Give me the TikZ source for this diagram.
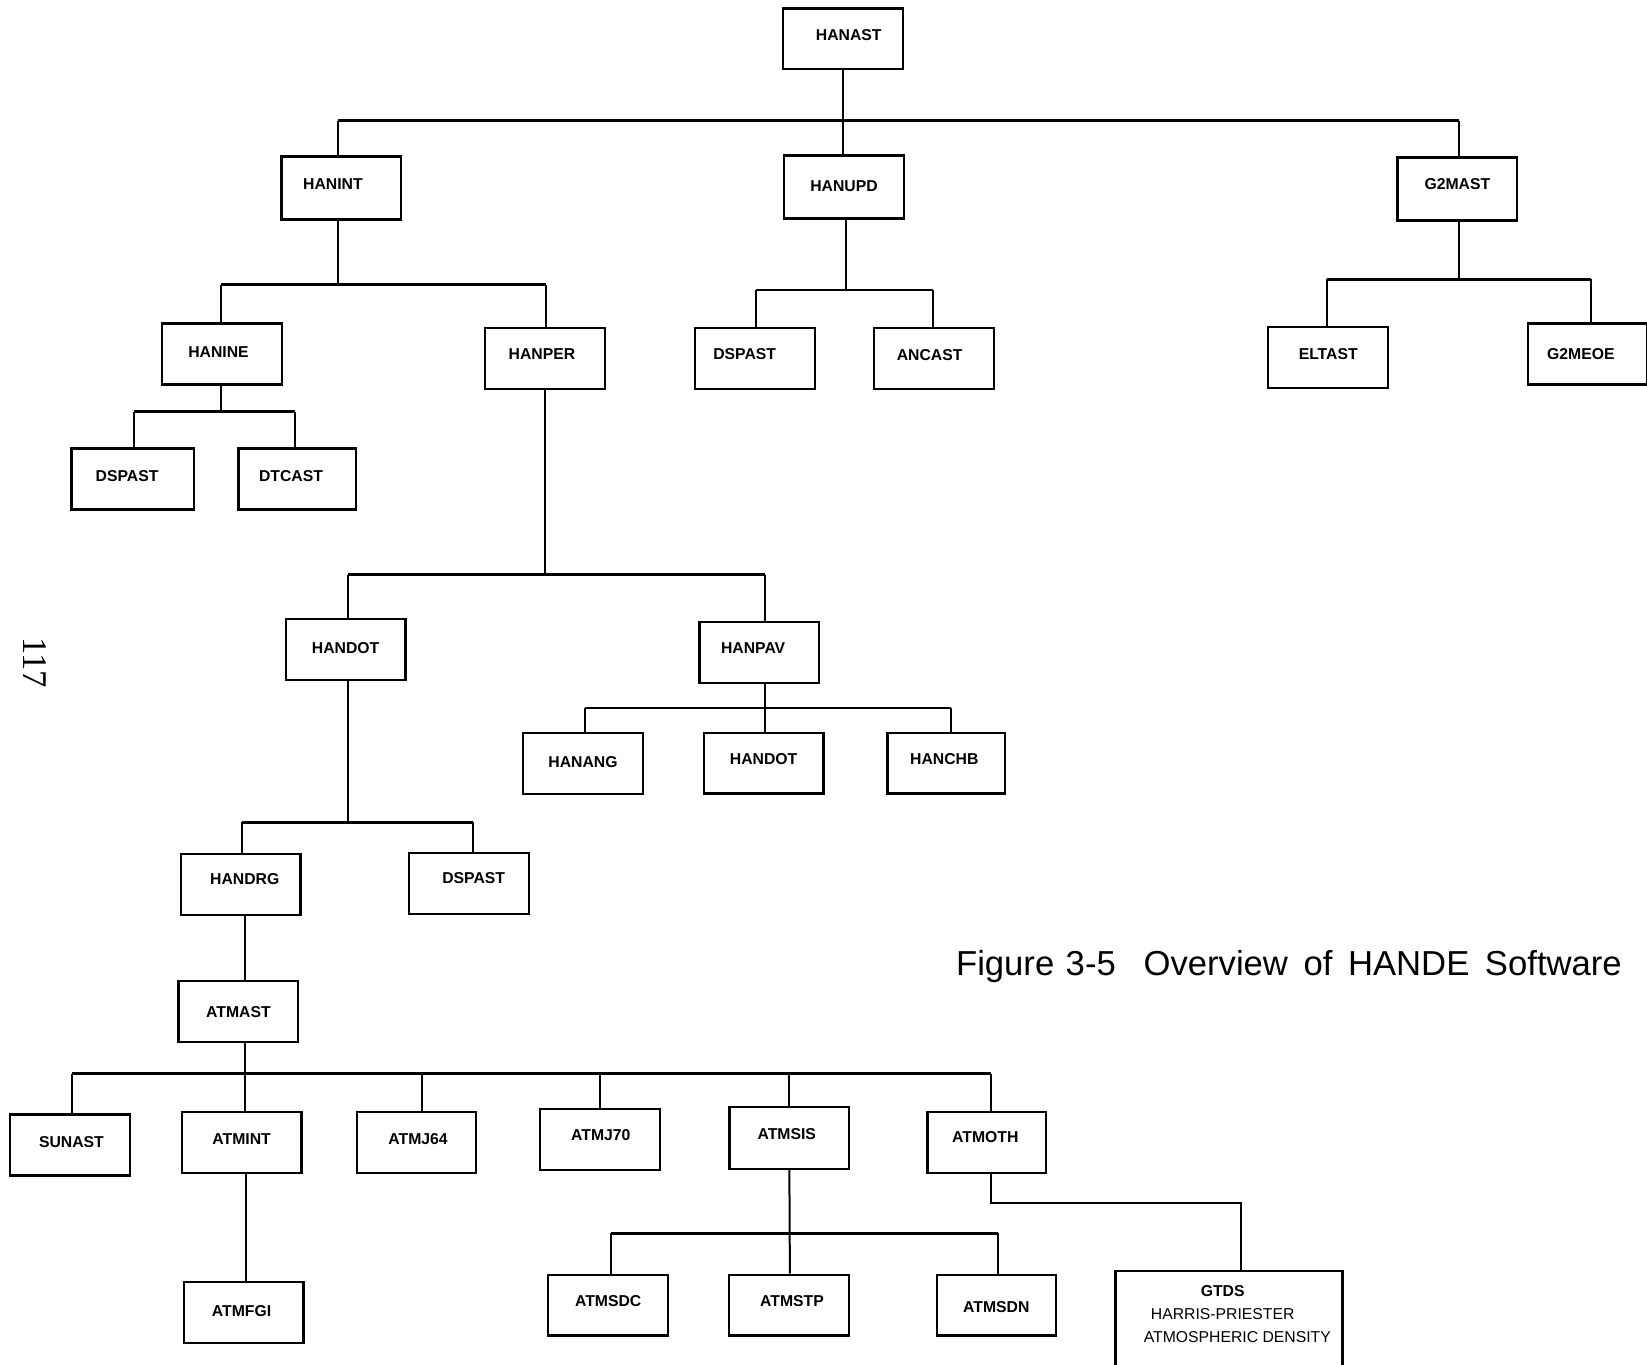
\documentclass[tikz,border=0pt]{standalone}
\usepackage{fontspec}
\setmainfont{Liberation Sans}
\newfontfamily\numfont{Liberation Serif}
\begin{document}
\begin{tikzpicture}[x=1pt,y=-1pt,
  box/.style={draw, line width=2.1pt, minimum width=114pt, minimum height=58pt,
    inner sep=0pt, text depth=7pt, font=\fontsize{15}{18}\selectfont\bfseries},
  conn/.style={line width=1.9pt},
  bus/.style={line width=2.6pt}]
\useasboundingbox (0,0) rectangle (1568,1299);

% ---- level 0 / 1
\node[box, text depth=8pt] (hanast) at (802.5,37) {\hspace*{11pt}HANAST};
\node[box, minimum height=60pt, text depth=8pt] (hanint) at (325,179) {\hspace*{-16pt}HANINT};
\node[box, minimum height=60pt, text depth=2pt] (hanupd) at (803.5,178) {HANUPD};
\node[box, minimum height=60pt, text depth=10pt] (g2mast) at (1387.5,180) {G2MAST};

% ---- level 2
\node[box, text depth=4pt] (hanine) at (211.5,337) {\hspace*{-7pt}HANINE};
\node[box, text depth=8pt] (hanper) at (519,341) {\hspace*{-6pt}HANPER};
\node[box, text depth=8pt] (dspasta) at (719,341) {\hspace*{-20pt}DSPAST};
\node[box, text depth=6pt] (ancast) at (889,341) {\hspace*{-8pt}ANCAST};
\node[box, text depth=7pt] (eltast) at (1264.5,340.5) {ELTAST};
\node[box, text depth=0pt] (g2meoe) at (1511.5,337) {\hspace*{-13pt}G2MEOE};

% ---- level 3
\node[box, minimum width=117pt, text depth=6pt] (dspastb) at (126.5,456) {\hspace*{-11pt}DSPAST};
\node[box, minimum width=112pt, text depth=6pt] (dtcast) at (283,456) {\hspace*{-12pt}DTCAST};

\node[box, text depth=3pt] (handota) at (329,618.5) {HANDOT};
\node[box, text depth=8pt] (hanpav) at (723,621) {\hspace*{-12pt}HANPAV};

\node[box, text depth=4pt] (hanang) at (555,727) {HANANG};
\node[box, text depth=7pt] (handotb) at (727,726.5) {HANDOT};
\node[box, minimum width=112pt, text depth=7pt] (hanchb) at (901,726.5) {\hspace*{-4pt}HANCHB};

\node[box, text depth=10pt] (handrg) at (229,842) {\hspace*{8pt}HANDRG};
\node[box, text depth=10pt] (dspastc) at (446.5,841) {\hspace*{9pt}DSPAST};

\node[box, text depth=0pt] (atmast) at (227,963) {ATMAST};

% ---- atmosphere models
\node[box, text depth=6pt] (sunast) at (66.5,1090) {\hspace*{3pt}SUNAST};
\node[box, text depth=7pt] (atmint) at (230,1087.5) {ATMINT};
\node[box, minimum width=113pt, text depth=8pt] (atmjsf) at (396.5,1088) {\hspace*{3pt}ATMJ64};
\node[box, text depth=8pt] (atmjso) at (571,1085) {\hspace*{2pt}ATMJ70};
\node[box, minimum height=59pt, text depth=7pt] (atmsis) at (751.5,1083.5) {\hspace*{-5pt}ATMSIS};
\node[box, minimum width=113pt, text depth=12pt] (atmoth) at (939.5,1088) {\hspace*{-3pt}ATMOTH};

\node[box, text depth=3pt] (atmfgi) at (232,1249.5) {\hspace*{-4pt}ATMFGI};
\node[box, text depth=7pt] (atmsdc) at (579,1242.5) {ATMSDC};
\node[box, text depth=7pt] (atmstp) at (751,1242.5) {\hspace*{6pt}ATMSTP};
\node[box, minimum width=113pt, text depth=0pt, text height=13.8pt] (atmsdn) at (948.5,1242.5) {ATMSDN};

% GTDS box: runs on past the lower edge of the sheet
\node[box, anchor=north, minimum width=216pt, text depth=0pt,
      font=\fontsize{15}{22}\selectfont] (gtds) at (1170,1209)
  {\parbox[b][100pt][t]{212pt}{\centering\vspace*{13.5pt}%
   \hspace*{-12pt}\textbf{GTDS}\\\hspace*{-12pt}HARRIS-PRIESTER\\\hspace*{16pt}ATMOSPHERIC DENSITY}};

% ---- bus levels
\coordinate (ya) at (0,115);
\coordinate (yb) at (0,271);
\coordinate (yc) at (0,276);
\coordinate (yd) at (0,266);
\coordinate (ye) at (0,392);
\coordinate (yf) at (0,547);
\coordinate (yg) at (0,674);
\coordinate (yh) at (0,783);
\coordinate (yi) at (0,1022);
\coordinate (yj) at (0,1174);
\coordinate (yk) at (0,1145);

% HANAST
\draw[conn] (hanast.south) -- (hanast.south |- hanupd.north);
\draw[bus] ([xshift=-3pt]hanint.north |- ya) -- ([xshift=1.5pt]g2mast.north |- ya);
\draw[conn] ([xshift=-3pt]hanint.north |- ya) -- ([xshift=-3pt]hanint.north);
\draw[conn] ([xshift=1.5pt]g2mast.north |- ya) -- ([xshift=1.5pt]g2mast.north);

% HANINT
\draw[conn] ([xshift=-3pt]hanint.south) -- ([xshift=-3pt]hanint.south |- yb);
\draw[bus] ([xshift=-1.5pt]hanine.north |- yb) -- ([xshift=1pt]hanper.north |- yb);
\draw[conn] ([xshift=-1.5pt]hanine.north |- yb) -- ([xshift=-1.5pt]hanine.north);
\draw[conn] ([xshift=1pt]hanper.north |- yb) -- ([xshift=1pt]hanper.north);

% HANUPD
\draw[conn] ([xshift=1.5pt]hanupd.south) -- ([xshift=1.5pt]hanupd.south |- yc);
\draw[bus] ([xshift=1pt]dspasta.north |- yc) -- ([xshift=-1pt]ancast.north |- yc);
\draw[conn] ([xshift=1pt]dspasta.north |- yc) -- ([xshift=1pt]dspasta.north);
\draw[conn] ([xshift=-1pt]ancast.north |- yc) -- ([xshift=-1pt]ancast.north);

% G2MAST
\draw[conn] ([xshift=1.5pt]g2mast.south) -- ([xshift=1.5pt]g2mast.south |- yd);
\draw[bus] ([xshift=-1.5pt]eltast.north |- yd) -- ([xshift=3.5pt]g2meoe.north |- yd);
\draw[conn] ([xshift=-1.5pt]eltast.north |- yd) -- ([xshift=-1.5pt]eltast.north);
\draw[conn] ([xshift=3.5pt]g2meoe.north |- yd) -- ([xshift=3.5pt]g2meoe.north);

% HANINE
\draw[conn] ([xshift=-1.5pt]hanine.south) -- ([xshift=-1.5pt]hanine.south |- ye);
\draw[bus] ([xshift=1.5pt]dspastb.north |- ye) -- ([xshift=-2pt]dtcast.north |- ye);
\draw[conn] ([xshift=1.5pt]dspastb.north |- ye) -- ([xshift=1.5pt]dspastb.north);
\draw[conn] ([xshift=-2pt]dtcast.north |- ye) -- ([xshift=-2pt]dtcast.north);

% HANPER
\draw[conn] (hanper.south) -- (hanper.south |- yf);
\draw[bus] ([xshift=2pt]handota.north |- yf) -- ([xshift=5pt]hanpav.north |- yf);
\draw[conn] ([xshift=2pt]handota.north |- yf) -- ([xshift=2pt]handota.north);
\draw[conn] ([xshift=5pt]hanpav.north |- yf) -- ([xshift=5pt]hanpav.north);

% HANPAV
\draw[conn] ([xshift=5pt]hanpav.south) -- ([xshift=1pt]handotb.north);
\draw[bus] ([xshift=2pt]hanang.north |- yg) -- ([xshift=4pt]hanchb.north |- yg);
\draw[conn] ([xshift=2pt]hanang.north |- yg) -- ([xshift=2pt]hanang.north);
\draw[conn] ([xshift=4pt]hanchb.north |- yg) -- ([xshift=4pt]hanchb.north);

% HANDOT
\draw[conn] ([xshift=2pt]handota.south) -- ([xshift=2pt]handota.south |- yh);
\draw[bus] ([xshift=1pt]handrg.north |- yh) -- ([xshift=3.5pt]dspastc.north |- yh);
\draw[conn] ([xshift=1pt]handrg.north |- yh) -- ([xshift=1pt]handrg.north);
\draw[conn] ([xshift=3.5pt]dspastc.north |- yh) -- ([xshift=3.5pt]dspastc.north);

% HANDRG
\draw[conn] ([xshift=4pt]handrg.south) -- ([xshift=6pt]atmast.north);

% ATMAST
\draw[conn] ([xshift=6pt]atmast.south) -- ([xshift=3pt]atmint.north);
\draw[bus] ([xshift=2.5pt]sunast.north |- yi) -- ([xshift=3.5pt]atmoth.north |- yi);
\draw[conn] ([xshift=2.5pt]sunast.north |- yi) -- ([xshift=2.5pt]sunast.north);
\draw[conn] ([xshift=5.5pt]atmjsf.north |- yi) -- ([xshift=5.5pt]atmjsf.north);
\draw[conn] (atmjso.north |- yi) -- (atmjso.north);
\draw[conn] (atmsis.north |- yi) -- (atmsis.north);
\draw[conn] ([xshift=3.5pt]atmoth.north |- yi) -- ([xshift=3.5pt]atmoth.north);

% ATMINT
\draw[conn] ([xshift=4pt]atmint.south) -- ([xshift=2pt]atmfgi.north);

% ATMSIS
\draw[conn] (atmsis.south) -- ([xshift=1pt]atmstp.north);
\draw[bus] ([xshift=3pt]atmsdc.north |- yj) -- ([xshift=1.5pt]atmsdn.north |- yj);
\draw[conn] ([xshift=3pt]atmsdc.north |- yj) -- ([xshift=3pt]atmsdc.north);
\draw[conn] ([xshift=1.5pt]atmsdn.north |- yj) -- ([xshift=1.5pt]atmsdn.north);

% ATMOTH
\draw[conn] ([xshift=3.5pt]atmoth.south) -- ([xshift=3.5pt]atmoth.south |- yk)
  -| ([xshift=11pt]gtds.north);

% ---- caption and page number
\node[anchor=base west, inner sep=0pt, font=\fontsize{33}{33}\selectfont] (title) at (910,929)
  {Figure\hspace{0.33em}3-5\hspace{0.8em}Overview\hspace{0.45em}of\hspace{0.45em}HANDE\hspace{0.45em}Software};
\node[rotate=-90, inner sep=0pt, font=\numfont\fontsize{33}{33}\selectfont] (pageno) at (33,631) {117};
\end{tikzpicture}
\end{document}
